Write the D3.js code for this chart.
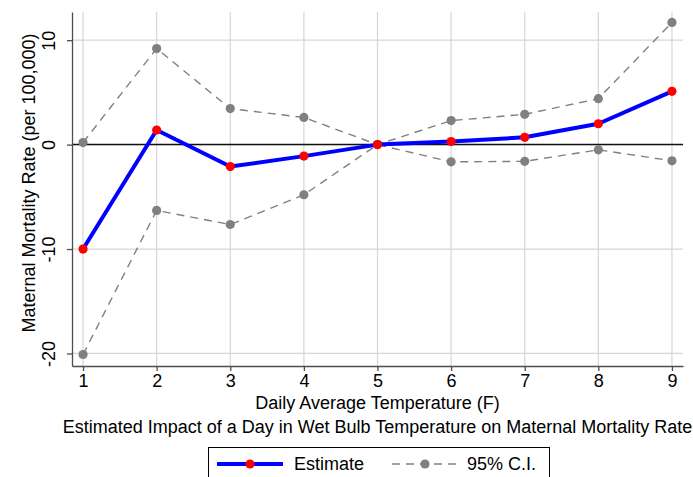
<!DOCTYPE html>
<html lang="en">
<head>
<meta charset="UTF-8">
<title>Chart</title>
<script src="https://cdn.jsdelivr.net/npm/d3@7"></script>
<style>
  body { margin: 0; background: #fff; }
  text { font-family: "Liberation Sans", Arial, sans-serif; }
</style>
</head>
<body>
<svg width="693" height="477"></svg>
<script>
  var temps = [1, 2, 3, 4, 5, 6, 7, 8, 9];
  var estimate = [-10.0, 1.4, -2.1, -1.1, 0, 0.3, 0.7, 2.0, 5.1];
  var ciUpper = [0.2, 9.2, 3.45, 2.6, 0, 2.3, 2.9, 4.4, 11.7];
  var ciLower = [-20.1, -6.3, -7.65, -4.8, 0, -1.65, -1.6, -0.5, -1.55];
  var yTicks = [-20, -10, 0, 10];

  var svg = d3.select('svg');
  var margin = { top: 12, right: 10, bottom: 111, left: 72 };
  var width = 693 - margin.left - margin.right;
  var height = 477 - margin.top - margin.bottom;

  var x = d3.scaleLinear().domain([0.85, 9.15]).range([0, width]);
  var y = d3.scaleLinear().domain([-21.2, 12.7]).range([height, 0]);

  var g = svg.append('g')
    .attr('transform', 'translate(' + margin.left + ',' + margin.top + ')');

  // grid
  g.selectAll('.vgrid').data(temps).enter().append('line')
    .attr('x1', function(d) { return x(d); })
    .attr('x2', function(d) { return x(d); })
    .attr('y1', 0).attr('y2', height)
    .attr('stroke', '#d6d6d6').attr('stroke-width', 1.2);
  g.selectAll('.hgrid').data(yTicks).enter().append('line')
    .attr('x1', 0).attr('x2', width)
    .attr('y1', function(d) { return y(d); })
    .attr('y2', function(d) { return y(d); })
    .attr('stroke', '#d6d6d6').attr('stroke-width', 1.2);

  // zero line
  g.append('line')
    .attr('x1', 0).attr('x2', width)
    .attr('y1', y(0)).attr('y2', y(0))
    .attr('stroke', '#111').attr('stroke-width', 1.5);

  // axes (plain hyphen minus like the original)
  var fmt = function(d) { return String(d); };
  var xAxis = g.append('g')
    .attr('transform', 'translate(0,' + height + ')')
    .call(d3.axisBottom(x).tickValues(temps).tickSize(5).tickSizeOuter(0).tickPadding(3).tickFormat(fmt));
  var yAxis = g.append('g')
    .call(d3.axisLeft(y).tickValues(yTicks).tickSize(5).tickSizeOuter(0).tickFormat(fmt));
  [xAxis, yAxis].forEach(function(a) {
    a.select('.domain').attr('stroke', '#4d4d4d').attr('stroke-width', 1.3);
    a.selectAll('.tick line').attr('stroke', '#4d4d4d').attr('stroke-width', 1.3);
    a.selectAll('text').attr('fill', '#000').style('font-size', '18px')
      .style('font-family', '"Liberation Sans", Arial, sans-serif');
  });
  yAxis.selectAll('.tick text')
    .attr('transform', 'rotate(-90)')
    .attr('x', 0).attr('y', -17)
    .attr('dy', '0')
    .attr('text-anchor', 'middle');

  // CI lines
  var line = function(vals) {
    return d3.line()
      .x(function(d, i) { return x(temps[i]); })
      .y(function(d) { return y(d); })(vals);
  };
  [ciUpper, ciLower].forEach(function(vals) {
    g.append('path')
      .attr('d', line(vals))
      .attr('fill', 'none')
      .attr('stroke', '#808080')
      .attr('stroke-width', 1.4)
      .attr('stroke-dasharray', '8,6');
    g.selectAll(null).data(vals).enter().append('circle')
      .attr('cx', function(d, i) { return x(temps[i]); })
      .attr('cy', function(d) { return y(d); })
      .attr('r', 4.6)
      .attr('fill', '#808080');
  });

  // estimate
  g.append('path')
    .attr('d', line(estimate))
    .attr('fill', 'none')
    .attr('stroke', '#0000ff')
    .attr('stroke-width', 4)
    .attr('stroke-linejoin', 'round');
  g.selectAll('.est').data(estimate).enter().append('circle')
    .attr('cx', function(d, i) { return x(temps[i]); })
    .attr('cy', function(d) { return y(d); })
    .attr('r', 4.6)
    .attr('fill', '#ff0000');

  // titles
  svg.append('text')
    .attr('transform', 'translate(35,183) rotate(-90)')
    .attr('text-anchor', 'middle')
    .style('font-size', '18px')
    .text('Maternal Mortality Rate (per 100,000)');
  svg.append('text')
    .attr('x', margin.left + width / 2).attr('y', 409)
    .attr('text-anchor', 'middle')
    .style('font-size', '18px')
    .text('Daily Average Temperature (F)');
  svg.append('text')
    .attr('x', margin.left + width / 2).attr('y', 433)
    .attr('text-anchor', 'middle')
    .style('font-size', '18px')
    .text('Estimated Impact of a Day in Wet Bulb Temperature on Maternal Mortality Rate');

  // legend
  var lg = svg.append('g');
  lg.append('rect')
    .attr('x', 208.5).attr('y', 447.5).attr('width', 341).attr('height', 40)
    .attr('fill', '#fff').attr('stroke', '#000').attr('stroke-width', 1);
  var ly = 464;
  lg.append('line').attr('x1', 217).attr('x2', 283).attr('y1', ly).attr('y2', ly)
    .attr('stroke', '#0000ff').attr('stroke-width', 4);
  lg.append('circle').attr('cx', 250).attr('cy', ly).attr('r', 4.6).attr('fill', '#ff0000');
  lg.append('text').attr('x', 294).attr('y', 470).style('font-size', '18px').text('Estimate');
  lg.append('line').attr('x1', 392).attr('x2', 459).attr('y1', ly).attr('y2', ly)
    .attr('stroke', '#808080').attr('stroke-width', 1.4).attr('stroke-dasharray', '8,6');
  lg.append('circle').attr('cx', 425).attr('cy', ly).attr('r', 4.6).attr('fill', '#808080');
  lg.append('text').attr('x', 467).attr('y', 470).style('font-size', '18px').text('95% C.I.');
</script>
</body>
</html>
